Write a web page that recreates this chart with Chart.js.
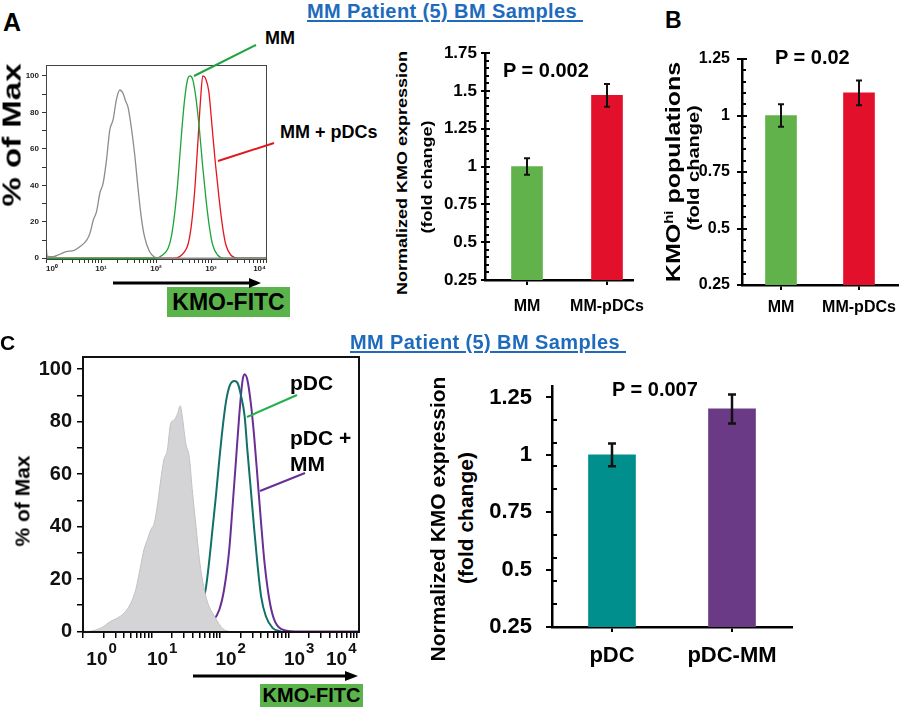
<!DOCTYPE html>
<html><head><meta charset="utf-8">
<script src="https://cdn.jsdelivr.net/npm/chart.js@4/dist/chart.umd.min.js"></script>
<style>
body{margin:0;background:#fff;width:900px;height:708px;position:relative;overflow:hidden;font-family:'Liberation Sans',Arial,sans-serif;font-weight:bold;color:#000}
.t{position:absolute;white-space:nowrap;line-height:1}
canvas{position:absolute}
.rot{position:absolute;white-space:nowrap;line-height:1;transform:translate(-50%,-50%) rotate(-90deg) scale(1,var(--sq,1))}
.ttl{color:#1e6bbd;font-size:20px;letter-spacing:0.4px;text-decoration:underline;text-decoration-thickness:2px;text-underline-offset:2px}
.box{position:absolute;background:#5ab34b;text-align:center;white-space:nowrap}
sup{font-size:60%;vertical-align:0.55em;line-height:0}
svg{position:absolute;left:0;top:0}
</style></head><body>

<canvas id="hA" width="280" height="240" style="left:0;top:50px"></canvas>
<canvas id="bA" width="220" height="300" style="left:430px;top:30px"></canvas>
<canvas id="bB" width="210" height="300" style="left:690px;top:30px"></canvas>
<canvas id="hC" width="390" height="340" style="left:0;top:340px"></canvas>
<canvas id="bC" width="330" height="330" style="left:480px;top:360px"></canvas>

<div class="t ttl" style="left:307px;top:1px">MM Patient (5) BM Samples&nbsp;</div>
<div class="t ttl" style="left:350px;top:332px">MM Patient (5) BM Samples&nbsp;</div>
<div class="t" style="left:3px;top:10px;font-size:25px">A</div>
<div class="t" style="left:665px;top:9px;font-size:23px">B</div>
<div class="t" style="left:0px;top:332px;font-size:21px">C</div>
<div class="t" style="left:265px;top:29px;font-size:18px">MM</div>
<div class="t" style="left:280px;top:123px;font-size:18px">MM + pDCs</div>
<div class="t" style="left:503px;top:60px;font-size:20px">P = 0.002</div>
<div class="t" style="left:775px;top:47px;font-size:20px">P = 0.02</div>
<div class="t" style="left:612px;top:379px;font-size:20px">P = 0.007</div>
<div class="t" style="left:290px;top:372px;font-size:21px">pDC</div>
<div class="t" style="left:290px;top:427px;font-size:21px">pDC +</div>
<div class="t" style="left:290px;top:453px;font-size:21px">MM</div>

<div class="rot" style="left:12px;top:135px;font-size:33px;--sq:0.78">% of Max</div>
<div class="rot" style="left:402px;top:173px;font-size:18px;--sq:0.82">Normalized KMO expression</div>
<div class="rot" style="left:427px;top:177px;font-size:18px;--sq:0.82">(fold change)</div>
<div class="rot" style="left:673px;top:172px;font-size:25px;--sq:0.82">KMO<sup>hi</sup> populations</div>
<div class="rot" style="left:693px;top:168px;font-size:20px;--sq:0.82">(fold change)</div>
<div class="rot" style="left:22px;top:501px;font-size:21px">% of Max</div>
<div class="rot" style="left:437px;top:519px;font-size:21px">Normalized KMO expression</div>
<div class="rot" style="left:465px;top:518px;font-size:21px">(fold change)</div>

<div class="box" style="left:167px;top:287px;width:123px;height:30px;line-height:30px;font-size:23px">KMO-FITC</div>
<div class="box" style="left:260px;top:684px;width:103px;height:23px;line-height:23px;font-size:20px">KMO-FITC</div>

<svg width="900" height="708">
  <line x1="113" y1="283" x2="252" y2="283" stroke="#000" stroke-width="3"/>
  <polygon points="249,278 261,283 249,288" fill="#000"/>
  <line x1="193" y1="676" x2="348" y2="676" stroke="#000" stroke-width="3"/>
  <polygon points="345,671 358,676 345,681" fill="#000"/>
  <line x1="194" y1="76" x2="256" y2="45" stroke="#1da43c" stroke-width="2"/>
  <line x1="218" y1="161" x2="274" y2="143" stroke="#e3161e" stroke-width="2"/>
  <line x1="247" y1="417" x2="297" y2="395" stroke="#22b04b" stroke-width="2"/>
  <line x1="260" y1="491" x2="305" y2="473" stroke="#6a2f95" stroke-width="2"/>
</svg>

<script>
// ================= DATA =================
// Panel A histogram: x = log10(KMO-FITC), y = % of Max
const histA_iso_log = [0.00,0.01,0.03,0.13,0.25,0.37,0.50,0.62,0.74,0.80,0.86,0.92,0.98,1.04,1.10,1.16,1.22,1.28,1.34,1.40,1.45,1.49,1.55,1.61,1.67,1.73,1.79,1.88,1.97,2.06,4.00];
const histA_iso_pct = [9,4,1,0.9,2.2,3.7,4.2,6.4,10,13.8,21,25.7,35.8,41.3,54,70.4,76,87,92.3,90.5,86,83,72,57.6,39.4,23,12,3.8,0.7,0,0];
const histA_mm_log  = [0.00,1.99,2.12,2.22,2.28,2.34,2.40,2.46,2.52,2.58,2.62,2.67,2.73,2.79,2.85,2.91,2.97,3.03,3.12,3.24,4.00];
const histA_mm_pct  = [0,0,1.8,5.5,12,24.8,43,66.8,87,98.7,100,97.8,87,70.4,50,32,17.4,7.4,1.8,0,0];
const histA_mmp_log = [0.00,2.31,2.43,2.52,2.58,2.64,2.70,2.76,2.81,2.85,2.90,2.96,3.02,3.08,3.15,3.21,3.27,3.36,3.51,4.00];
const histA_mmp_pct = [0,0,0.9,3.7,7.4,17.4,35.7,63,87,100,98.7,91.5,72,52,32,17.4,7.4,1.8,0,0];

// Panel C histogram
const histC_iso_log = [0.00,0.05,0.26,0.40,0.50,0.60,0.70,0.77,0.84,0.89,0.94,0.99,1.04,1.09,1.135,1.18,1.23,1.28,1.33,1.38,1.42,1.45,1.50,1.55,1.60,1.65,1.70,1.77,1.84,1.92,1.99,2.06,2.14];
const histC_iso_pct = [0.5,0,1.3,3.8,5.1,7.0,10.9,16,24.8,31.2,35,38.8,41.3,48.9,57.8,65.4,69,79.3,80.6,83,86,81.9,71.7,66.7,52.7,40,27.4,16,9.6,5.8,2.7,0.7,0];
const histC_pdc_log = [1.135,1.33,1.48,1.62,1.72,1.79,1.84,1.89,1.94,1.99,2.04,2.09,2.145,2.21,2.26,2.31,2.36,2.40,2.45,2.50,2.55,2.60,2.67,2.77,2.89];
const histC_pdc_pct = [0,1.3,3.2,5.8,9.6,16,26.2,38.8,51.5,65.4,78,88,93.9,95.5,94.5,89.5,82,69,54,38.8,24.8,13.4,5.8,1.3,0];
const histC_pdm_log = [1.57,1.77,1.89,1.99,2.06,2.135,2.18,2.23,2.28,2.33,2.36,2.40,2.45,2.50,2.55,2.60,2.65,2.72,2.79,2.89,3.09,4.03];
const histC_pdm_pct = [0,1.3,3.8,8.3,16,31.2,46.4,64,82,95.8,98,95.8,87,74,57.8,41.3,26.2,12.2,4.6,1,0,0];

// Bar charts
const barA_cats = ['MM','MM-pDCs'];
const barA_vals = [1.0, 1.47];
const barA_errs = [0.055, 0.075];
const barB_cats = ['MM','MM-pDCs'];
const barB_vals = [1.0, 1.1];
const barB_errs = [0.05, 0.055];
const barC_cats = ['pDC','pDC-MM'];
const barC_vals = [1.0, 1.2];
const barC_errs = [0.05, 0.063];

// Tick definitions
const barA_ticks = [0.25,0.5,0.75,1,1.25,1.5,1.75];
const barA_minor = [0.3,0.35,0.4,0.45,0.55,0.6,0.65,0.7,0.8,0.85,0.9,0.95,1.05,1.1,1.15,1.2,1.3,1.35,1.4,1.45,1.55,1.6,1.65,1.7];
const barB_ticks = [0.25,0.5,0.75,1,1.25];
const barB_minor = [0.3,0.35,0.4,0.45,0.55,0.6,0.65,0.7,0.8,0.85,0.9,0.95,1.05,1.1,1.15,1.2];
const barC_ticks = [0.25,0.5,0.75,1,1.25];
const barC_minor = [0.35,0.45,0.55,0.65,0.85,0.95,1.05,1.15];
const hist_yTicks = [0,5,10,15,20,25,30,35,40,45,50,55,60,65,70,75,80,85,90,95,100];
const hist_xTicks = [1,2,3,4,5,6,7,8,9,10,20,30,40,50,60,70,80,90,100,200,300,400,500,600,700,800,900,1000,2000,3000,4000,5000,6000,7000,8000,9000,10000];
const histA_xLabels = {1:'10\u2070', 10:'10\u00b9', 100:'10\u00b2', 1000:'10\u00b3', 10000:'10\u2074'};
const histC_xExp = {1:'0', 10:'1', 100:'2', 1000:'3', 10000:'4'};

// ================= HELPERS =================
const SANS = "'Liberation Sans', Arial, sans-serif";
function fixW(w){ return s => { s.width = w; s.paddingTop = 0; s.paddingBottom = 0; }; }
function fixH(h){ return s => { s.height = h; s.paddingLeft = 0; s.paddingRight = 0; }; }
function pts(logs, pct){ return logs.map((l,i)=>({x: Math.pow(10,l), y: pct[i]})); }
function framePlugin(color, width){
  return {id:'frame', afterDatasetsDraw(chart){
    const {ctx, chartArea:a} = chart; const o = width % 2 ? 0.5 : 0;
    ctx.save(); ctx.strokeStyle = color; ctx.lineWidth = width;
    ctx.strokeRect(Math.round(a.left)+o, Math.round(a.top)+o, Math.round(a.right-a.left), Math.round(a.bottom-a.top));
    ctx.restore();
  }};
}
const errPlugin = {id:'errbars', afterDatasetsDraw(chart, args, o){
  const meta = chart.getDatasetMeta(0), ys = chart.scales.y, ctx = chart.ctx;
  ctx.save(); ctx.strokeStyle = '#111'; ctx.lineWidth = o.width;
  meta.data.forEach((bar, i) => {
    const v = chart.data.datasets[0].data[i].y, e = o.errors[i];
    const t = ys.getPixelForValue(v + e), b = ys.getPixelForValue(v - e);
    ctx.beginPath();
    ctx.moveTo(bar.x, t); ctx.lineTo(bar.x, b);
    ctx.moveTo(bar.x - o.cap, t); ctx.lineTo(bar.x + o.cap, t);
    ctx.moveTo(bar.x - o.cap, b); ctx.lineTo(bar.x + o.cap, b);
    ctx.stroke();
  });
  ctx.restore();
}};
const innerPlugin = {id:'inner', afterDraw(chart, args, o){
  const ys = chart.scales.y, x0 = chart.chartArea.left, ctx = chart.ctx;
  ctx.save(); ctx.strokeStyle = '#000'; ctx.lineWidth = 2; ctx.beginPath();
  o.minor.forEach(v => { const y = Math.round(ys.getPixelForValue(v)); ctx.moveTo(x0, y); ctx.lineTo(x0 + o.minorLen, y); });
  (o.major || []).forEach(v => { const y = Math.round(ys.getPixelForValue(v)); ctx.moveTo(x0, y); ctx.lineTo(x0 + o.majorLen, y); });
  ctx.stroke(); ctx.restore();
}};

// C histogram decade labels: base "10" drawn as tick label, exponent drawn raised beside it
const C_LABEL_FONT = 19, C_LABEL_OFFSET = 6, C_LEAD = 3, C_TRAIL = 10;
function cLabelShift(v, spaceW){
  return C_LABEL_OFFSET + (v === 1 ? C_LEAD * spaceW / 2 : 0) - (v === 10000 ? C_TRAIL * spaceW / 2 : 0);
}
const expPlugin = {id:'exps', afterDraw(chart){
  const xs = chart.scales.x, ctx = chart.ctx;
  ctx.save();
  ctx.font = 'bold ' + C_LABEL_FONT + 'px ' + SANS;
  const spaceW = ctx.measureText(' ').width, halfBase = ctx.measureText('10').width / 2;
  ctx.font = 'bold 15px ' + SANS; ctx.fillStyle = '#111'; ctx.textAlign = 'left'; ctx.textBaseline = 'alphabetic';
  const yBase = chart.chartArea.bottom + 21;
  Object.keys(histC_xExp).forEach(k => {
    const v = +k;
    const cx = xs.getPixelForValue(v) + cLabelShift(v, spaceW);
    ctx.fillText(histC_xExp[k], cx + halfBase + 1, yBase);
  });
  ctx.restore();
}};

// ================= HISTOGRAM A =================
new Chart(document.getElementById('hA'), {
  type: 'line',
  data: {datasets: [
    {data: pts(histA_iso_log, histA_iso_pct), borderColor:'#8c8c8c', borderWidth:1.3, pointRadius:0, cubicInterpolationMode:'monotone', fill:false},
    {data: pts(histA_mm_log, histA_mm_pct), borderColor:'#1da43c', borderWidth:1.3, pointRadius:0, cubicInterpolationMode:'monotone', fill:false},
    {data: pts(histA_mmp_log, histA_mmp_pct), borderColor:'#e3161e', borderWidth:1.3, pointRadius:0, cubicInterpolationMode:'monotone', fill:false}
  ]},
  options: {
    responsive:false, animation:false,
    layout:{padding:{top:15, right:14, left:0, bottom:0}},
    plugins:{legend:{display:false}, tooltip:{enabled:false}},
    scales:{
      x:{type:'logarithmic', min:1, max:10000,
        afterBuildTicks: s => { s.ticks = hist_xTicks.map(v => ({value:v})); },
        afterFit: fixH(31), border:{display:false},
        grid:{drawOnChartArea:false, tickLength:4, color:'#333', tickColor:'#333'},
        ticks:{autoSkip:false, maxRotation:0, minRotation:0, align:'inner', padding:1, color:'#222',
          font:{family:SANS, size:8, weight:'bold'}, callback: v => histA_xLabels[v] ?? ''}},
      y:{min:-0.4, max:106,
        afterBuildTicks: s => { s.ticks = hist_yTicks.map(v => ({value:v})); },
        afterFit: fixW(46), border:{display:false},
        grid:{drawOnChartArea:false, tickLength:4, color:'#333', tickColor:'#333'},
        ticks:{padding:3, color:'#222', font:{family:SANS, size:8, weight:'bold'},
          callback: v => (v % 20 === 0 ? String(v) : '')}}
    }
  },
  plugins:[framePlugin('#444', 1)]
});

// ================= HISTOGRAM C =================
new Chart(document.getElementById('hC'), {
  type: 'line',
  data: {datasets: [
    {data: pts(histC_iso_log, histC_iso_pct), borderColor:'#c2c2c4', backgroundColor:'#d4d4d6', borderWidth:1, pointRadius:0, cubicInterpolationMode:'monotone', fill:'origin'},
    {data: pts(histC_pdc_log, histC_pdc_pct), borderColor:'#127068', borderWidth:2, pointRadius:0, cubicInterpolationMode:'monotone', fill:false},
    {data: pts(histC_pdm_log, histC_pdm_pct), borderColor:'#6a2f95', borderWidth:2, pointRadius:0, cubicInterpolationMode:'monotone', fill:false}
  ]},
  options: {
    responsive:false, animation:false,
    layout:{padding:{top:17, right:31, left:0, bottom:0}},
    plugins:{legend:{display:false}, tooltip:{enabled:false}},
    scales:{
      x:{type:'logarithmic', min:1, max:10700,
        afterBuildTicks: s => { s.ticks = hist_xTicks.map(v => ({value:v})); },
        afterFit: fixH(48), border:{display:false},
        grid:{drawOnChartArea:false, tickLength:6, color:'#000', tickColor:'#000', lineWidth:1.5},
        ticks:{autoSkip:false, maxRotation:0, minRotation:0, padding:10, labelOffset:C_LABEL_OFFSET, color:'#111',
          font:{family:SANS, size:C_LABEL_FONT, weight:'bold'},
          callback: v => {
            if (histC_xExp[v] === undefined) return '';
            const lead = v === 1 ? ' '.repeat(C_LEAD) : '';
            const trail = v === 10000 ? ' '.repeat(C_TRAIL) : '';
            return lead + '10' + trail;
          }}},
      y:{min:-0.2, max:104.6,
        afterBuildTicks: s => { s.ticks = hist_yTicks.map(v => ({value:v})); },
        afterFit: fixW(83), border:{display:false},
        grid:{drawOnChartArea:false, tickLength:6, color:'#000', tickColor:'#000', lineWidth:1.5},
        ticks:{padding:5, color:'#111', font:{family:SANS, size:20, weight:'bold'},
          callback: v => (v % 20 === 0 ? String(v) : '')}}
    }
  },
  plugins:[framePlugin('#111', 2), expPlugin]
});

// ================= BAR CHARTS =================
function barChart(id, cats, vals, errs, colors, o){
  return new Chart(document.getElementById(id), {
    type:'bar',
    data:{datasets:[{data: vals.map((v,i) => ({x:i, y:v})), backgroundColor: colors, barThickness: o.bw, borderWidth:0}]},
    options:{
      responsive:false, animation:false,
      layout:{padding:o.pad},
      plugins:{legend:{display:false}, tooltip:{enabled:false},
        errbars:{errors:errs, cap:o.cap, width:o.ew},
        inner:{minor:o.minor, minorLen:o.minorLen, major:o.innerMajor ? o.yticks : [], majorLen:o.minorLen+1}},
      scales:{
        x:{type:'linear', min:o.xmin, max:o.xmax, offset:false,
          afterBuildTicks: s => { s.ticks = cats.map((c,i) => ({value:i})); },
          afterFit: fixH(o.xh), border:{color:'#000', width:2.5},
          grid:{drawOnChartArea:false, offset:false, tickLength:5, color:'#000', tickColor:'#000', lineWidth:2},
          ticks:{autoSkip:false, maxRotation:0, minRotation:0, padding:o.xpad, color:'#000', font:o.xfont,
            callback: v => cats[v]}},
        y:{min:o.ymin, max:o.ymax, beginAtZero:false,
          afterBuildTicks: s => { s.ticks = o.yticks.map(v => ({value:v})); },
          afterFit: fixW(o.yw), border:{color:'#000', width:2.5},
          grid:{drawOnChartArea:false, tickLength:o.tl, color:'#000', tickColor:'#000', lineWidth:2},
          ticks:{padding:o.ypad, color:'#000', font:o.yfont, callback: v => String(v)}}
      }
    },
    plugins:[errPlugin, innerPlugin]
  });
}

barChart('bA', barA_cats, barA_vals, barA_errs, ['#62b24c','#e2102b'], {
  bw:31, pad:{top:23, right:17, left:0, bottom:0}, xmin:-0.525, xmax:1.325, xh:50, yw:55,
  ymin:0.25, ymax:1.75, yticks:barA_ticks, minor:barA_minor, minorLen:4, innerMajor:true, tl:4,
  cap:3, ew:2, xpad:12, ypad:4,
  xfont:{family:SANS, size:16, weight:'bold'}, yfont:{family:SANS, size:17, weight:'bold'}
});
barChart('bB', barB_cats, barB_vals, barB_errs, ['#62b24c','#e2102b'], {
  bw:31, pad:{top:29, right:2, left:0, bottom:0}, xmin:-0.5, xmax:1.5, xh:45, yw:52,
  ymin:0.25, ymax:1.25, yticks:barB_ticks, minor:barB_minor, minorLen:4, innerMajor:true, tl:5,
  cap:3, ew:2, xpad:8, ypad:7,
  xfont:{family:SANS, size:16, weight:'bold'}, yfont:{family:SANS, size:16, weight:'bold'}
});
barChart('bC', barC_cats, barC_vals, barC_errs, ['#008f8c','#6b3a86'], {
  bw:47, pad:{top:26, right:18, left:0, bottom:0}, xmin:-0.5, xmax:1.5, xh:63, yw:72,
  ymin:0.25, ymax:1.30, yticks:barC_ticks, minor:barC_minor, minorLen:5, innerMajor:false, tl:6,
  cap:4, ew:2.5, xpad:11, ypad:14,
  xfont:{family:SANS, size:22, weight:'bold'}, yfont:{family:SANS, size:22, weight:'bold'}
});
</script>
</body></html>
